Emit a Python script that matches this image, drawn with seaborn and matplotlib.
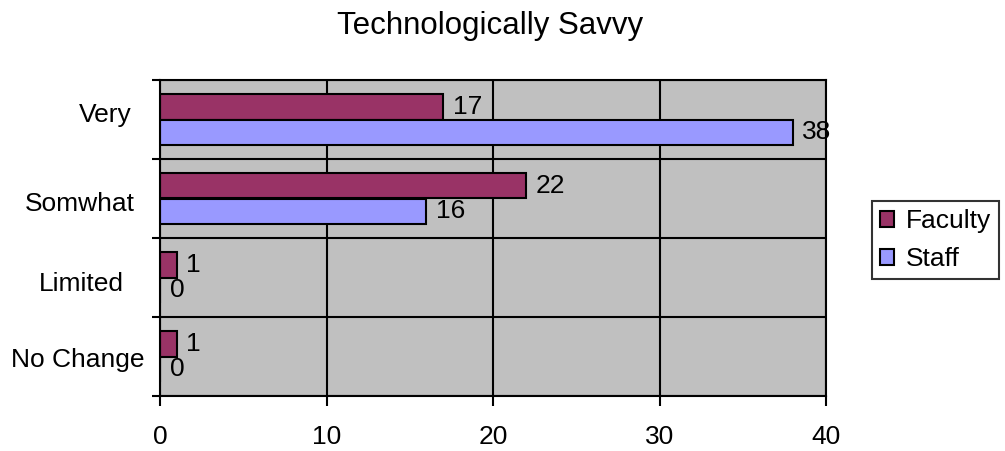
import matplotlib
matplotlib.use("Agg")
import matplotlib.pyplot as plt
import matplotlib.transforms as mtransforms
from matplotlib.patches import Patch
import seaborn as sns
import pandas as pd

# Survey answers, listed top to bottom
categories = ["Very", "Somwhat", "Limited", "No Change"]
faculty = [17, 22, 1, 1]
staff = [38, 16, 0, 0]
groups = ["Faculty", "Staff"]
x_ticks = [0, 10, 20, 30, 40]
title = "Technologically Savvy"

colors = {"Faculty": "#993366", "Staff": "#9999FF"}

df = pd.DataFrame({
    "category": categories * 2,
    "value": faculty + staff,
    "group": [groups[0]] * len(categories) + [groups[1]] * len(categories),
})

sns.set_theme(style="white")
plt.rcParams["font.family"] = ["Liberation Sans", "DejaVu Sans"]
plt.rcParams.update({"text.color": "black", "axes.labelcolor": "black",
                     "xtick.color": "black", "ytick.color": "black"})

FS = 19
fig = plt.figure(figsize=(10.05, 4.51), dpi=100)
ax = fig.add_axes([160 / 1005, 1 - 396 / 451, 666 / 1005, 316 / 451])
ax.set_facecolor("#C0C0C0")

sns.barplot(data=df, y="category", x="value", hue="group", order=categories,
            hue_order=groups, palette=colors, orient="h", width=0.64, gap=0,
            edgecolor="black", linewidth=1.5, saturation=1, legend=False, ax=ax)

for cont in ax.containers:
    ax.bar_label(cont, fmt="%d", padding=7, fontsize=FS, color="black")

ax.set_xlim(0, 40)
ax.set_ylim(len(categories) - 0.5, -0.5)
ax.set_xticks(x_ticks)
ax.set_xticklabels([str(t) for t in x_ticks], fontsize=FS)
ax.set_yticks(range(len(categories)))
ax.set_yticklabels(categories, fontsize=FS)
ax.set_yticks([i - 0.5 for i in range(len(categories) + 1)], minor=True)
ax.set_xlabel("")
ax.set_ylabel("")

ax.set_axisbelow(True)
ax.grid(False)
ax.xaxis.grid(True, which="major", color="black", linewidth=1.5)
ax.yaxis.grid(True, which="minor", color="black", linewidth=1.5)

ax.tick_params(axis="x", which="major", direction="out", length=7, width=1.5,
               color="black", labelcolor="black", pad=14, bottom=True)
ax.tick_params(axis="y", which="major", length=0, pad=11.5, labelcolor="black")
ax.tick_params(axis="y", which="minor", direction="out", length=6, width=1.5,
               color="black", left=True)

for sp in ax.spines.values():
    sp.set_visible(True)
    sp.set_color("black")
    sp.set_linewidth(1.5)

# Nudge each category label to its own spot (pixels: right, down)
label_shift = [(-12, -7), (-9, 3), (-20, 4), (0, 1)]
for lab, (dx, dy) in zip(ax.get_yticklabels(), label_shift):
    off = mtransforms.ScaledTranslation(dx / 100, -dy / 100, fig.dpi_scale_trans)
    lab.set_transform(lab.get_transform() + off)

fig.text(490 / 1005, 1 - 34 / 451, title, ha="center", va="baseline",
         fontsize=22.5, color="black")

handles = [Patch(facecolor=colors[g], edgecolor="black", linewidth=1.5) for g in groups]
leg = fig.legend(handles, groups, loc="upper left",
                 bbox_to_anchor=(872 / 1005, 1 - 201 / 451),
                 bbox_transform=fig.transFigure, fontsize=FS, frameon=True,
                 fancybox=False, shadow=False, borderaxespad=0, borderpad=0.3,
                 handlelength=0.55, handleheight=0.55, handletextpad=0.45,
                 labelspacing=0.55, labelcolor="black")
leg.get_frame().set_edgecolor("black")
leg.get_frame().set_linewidth(1.5)
leg.get_frame().set_facecolor("white")

fig.savefig("out.png", dpi=100, facecolor="white")
